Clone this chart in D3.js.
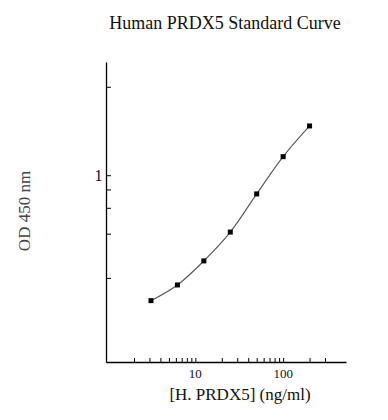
<!DOCTYPE html>
<html>
<head>
<meta charset="utf-8">
<script src="https://cdn.jsdelivr.net/npm/d3@7"></script>
<style>
  body { margin: 0; background: #fff; }
  text { font-family: "Liberation Serif", "Times New Roman", serif; fill: #111; }
</style>
</head>
<body>
<div id="chart"></div>
<script>
// standard curve data
var conc = [3.125, 6.25, 12.5, 25, 50, 100, 200];
var od = [0.14, 0.179, 0.261, 0.41, 0.746, 1.338, 2.165];

var xTicks = [2, 3, 4, 5, 6, 7, 8, 9, 10, 20, 30, 40, 50, 60, 70, 80, 90, 100, 200, 300];
var xLabels = [10, 100];
var yTicks = [4, 1, 0.8, 0.6, 0.4, 0.2];
var yLabels = [1];

var width = 388, height = 420;
var margin = {top: 62, right: 42, bottom: 58, left: 106};

var svg = d3.select("#chart").append("svg")
    .attr("width", width)
    .attr("height", height);

var x = d3.scaleLog()
    .domain([0.96, 520])
    .range([margin.left, width - margin.right]);

var y = d3.scaleLog()
    .domain([0.0535, 5.9])
    .range([height - margin.bottom, margin.top]);

// axes, ticks pointing inside
var xAxis = svg.append("g")
    .attr("transform", "translate(0," + (height - margin.bottom) + ")")
    .call(d3.axisTop(x).tickValues(xTicks).tickFormat("").tickSize(4).tickSizeOuter(0));

var yAxis = svg.append("g")
    .attr("transform", "translate(" + margin.left + ",0)")
    .call(d3.axisRight(y).tickValues(yTicks).tickFormat("").tickSize(5).tickSizeOuter(0));

svg.selectAll(".domain").attr("stroke", "#000").attr("stroke-width", 1.3);
svg.selectAll(".tick line").attr("stroke", "#000").attr("stroke-width", 1);

svg.selectAll(".xlab")
    .data(xLabels)
  .enter().append("text")
    .attr("x", function(d) { return x(d); })
    .attr("y", 378)
    .attr("text-anchor", "middle")
    .style("font-size", "13px")
    .text(function(d) { return d; });

svg.selectAll(".ylab")
    .data(yLabels)
  .enter().append("text")
    .attr("x", 102.5)
    .attr("y", function(d) { return y(d) + 5.5; })
    .attr("text-anchor", "end")
    .style("font-size", "16px")
    .text(function(d) { return d; });

// fitted curve
var pts = conc.map(function(c, i) { return [x(c), y(od[i])]; });

svg.append("path")
    .datum(pts)
    .attr("fill", "none")
    .attr("stroke", "#555")
    .attr("stroke-width", 1.1)
    .attr("d", d3.line().curve(d3.curveCatmullRom));

svg.selectAll(".pt")
    .data(pts)
  .enter().append("rect")
    .attr("x", function(d) { return d[0] - 2.5; })
    .attr("y", function(d) { return d[1] - 2.5; })
    .attr("width", 5)
    .attr("height", 5)
    .attr("fill", "#000");

svg.append("text")
    .attr("x", 225)
    .attr("y", 29)
    .attr("text-anchor", "middle")
    .style("font-size", "18px")
    .text("Human PRDX5 Standard Curve");

svg.append("text")
    .attr("x", 240)
    .attr("y", 400)
    .attr("text-anchor", "middle")
    .style("font-size", "17px")
    .text("[H. PRDX5] (ng/ml)");

svg.append("text")
    .attr("transform", "translate(30,211) rotate(-90)")
    .attr("text-anchor", "middle")
    .style("font-size", "17px")
    .style("fill", "#444")
    .text("OD 450 nm");
</script>
</body>
</html>
